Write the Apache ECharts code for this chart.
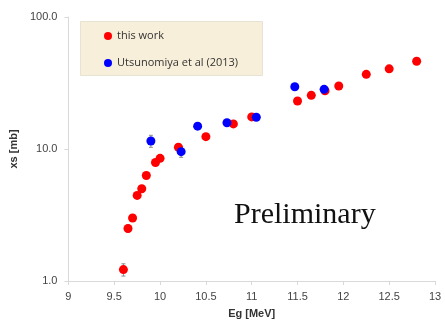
<!DOCTYPE html>
<html>
<head>
<meta charset="utf-8">
<script src="https://cdn.jsdelivr.net/npm/echarts@6/dist/echarts.min.js"></script>
<style>
  html, body { margin: 0; padding: 0; background: #fff; }
  #chart { width: 445px; height: 325px; }
</style>
</head>
<body>
<div id="chart"></div>
<script>
// this work
const workEnergy = [9.60, 9.65, 9.70, 9.75, 9.80, 9.85, 9.95, 10.0, 10.2, 10.5, 10.8, 11.0, 11.5, 11.65, 11.8, 11.95, 12.25, 12.5, 12.8];
const workXs = [1.22, 2.5, 3.0, 4.45, 5.0, 6.3, 7.9, 8.5, 10.3, 12.4, 15.5, 17.5, 23.1, 25.5, 27.6, 30.0, 36.8, 40.5, 46.2];
const workErr = [0.13, 0.15, 0.15, 0.2, 0.2, 0.25, 0.3, 0.3, 0.4, 0.4, 0.5, 0.5, 0.6, 0.6, 0.7, 0.7, 0.8, 0.9, 1.0];
// Utsunomiya et al (2013)
const refEnergy = [9.90, 10.23, 10.41, 10.73, 11.05, 11.47, 11.79];
const refXs = [11.5, 9.55, 14.9, 15.8, 17.4, 29.6, 28.3];
const refErr = [1.2, 0.9, 0.6, 0.6, 0.6, 1.0, 1.0];

const xTicks = [9, 9.5, 10, 10.5, 11, 11.5, 12, 12.5, 13];

const pts = (xs, ys) => xs.map((x, i) => [x, ys[i]]);
const errs = (xs, ys, es) => xs.map((x, i) => [x, ys[i] - es[i], ys[i] + es[i]]);

function errorBar(params, api) {
    const x = api.value(0);
    const lo = api.coord([x, api.value(1)]);
    const hi = api.coord([x, api.value(2)]);
    const style = { stroke: '#8c8c8c', lineWidth: 1 };
    return {
        type: 'group',
        children: [
            { type: 'line', shape: { x1: lo[0], y1: lo[1], x2: hi[0], y2: hi[1] }, style },
            { type: 'line', shape: { x1: lo[0] - 2, y1: lo[1], x2: lo[0] + 2, y2: lo[1] }, style },
            { type: 'line', shape: { x1: hi[0] - 2, y1: hi[1], x2: hi[0] + 2, y2: hi[1] }, style }
        ]
    };
}

const myChart = echarts.init(document.getElementById('chart'));
const option = {
    animation: false,
    grid: { left: 68, right: 10, top: 17, bottom: 44 },
    graphic: [
        {
            type: 'rect',
            left: 80, top: 21,
            shape: { width: 182, height: 54 },
            style: { fill: '#f8efda', stroke: '#e8e2d4', lineWidth: 1 },
            z: 1
        },
        {
            type: 'text',
            left: 234, top: 200,
            style: {
                text: 'Preliminary',
                font: '30px "Liberation Serif", "DejaVu Serif", serif',
                fill: '#111',
                shadowColor: 'rgba(0,0,0,0.35)',
                shadowBlur: 2,
                shadowOffsetX: 1,
                shadowOffsetY: 1
            },
            z: 10
        }
    ],
    legend: {
        orient: 'vertical',
        left: 99, top: 24,
        itemWidth: 8, itemHeight: 8,
        itemGap: 13,
        icon: 'circle',
        data: ['this work', 'Utsunomiya et al (2013)'],
        textStyle: { fontSize: 11, color: '#333', lineHeight: 14, fontFamily: '"Open Sans", sans-serif' },
        z: 5
    },
    xAxis: {
        type: 'value',
        min: 9, max: 13, interval: 0.5,
        name: 'Eg [MeV]',
        nameLocation: 'middle',
        nameGap: 27,
        nameTextStyle: { fontWeight: 'bold', fontSize: 11, color: '#333' },
        axisLine: { lineStyle: { color: '#d9d9d9' } },
        axisTick: { show: true, length: 4, lineStyle: { color: '#d9d9d9' } },
        splitLine: { show: false },
        axisLabel: {
            color: '#444', fontSize: 11, margin: 10,
            formatter: v => xTicks.includes(v) ? String(v) : ''
        }
    },
    yAxis: {
        type: 'log',
        logBase: 10,
        min: 1, max: 100,
        name: 'xs [mb]',
        nameLocation: 'middle',
        nameGap: 47,
        nameTextStyle: { fontWeight: 'bold', fontSize: 11, color: '#333' },
        axisLine: { show: true, lineStyle: { color: '#d9d9d9' } },
        axisTick: { show: true, length: 4, lineStyle: { color: '#d9d9d9' } },
        splitLine: { show: false },
        minorTick: { show: false },
        axisLabel: {
            color: '#444', fontSize: 11, margin: 11,
            formatter: v => v.toFixed(1)
        }
    },
    series: [
        {
            type: 'custom',
            renderItem: errorBar,
            data: errs(workEnergy, workXs, workErr),
            z: 2,
            silent: true
        },
        {
            type: 'custom',
            renderItem: errorBar,
            data: errs(refEnergy, refXs, refErr),
            z: 2,
            silent: true
        },
        {
            name: 'this work',
            type: 'scatter',
            symbolSize: 9,
            itemStyle: { color: '#ff0000', opacity: 1 },
            data: pts(workEnergy, workXs),
            z: 3
        },
        {
            name: 'Utsunomiya et al (2013)',
            type: 'scatter',
            symbolSize: 9,
            itemStyle: { color: '#0000ff', opacity: 1 },
            data: pts(refEnergy, refXs),
            z: 4
        }
    ]
};
myChart.setOption(option);
</script>
</body>
</html>
